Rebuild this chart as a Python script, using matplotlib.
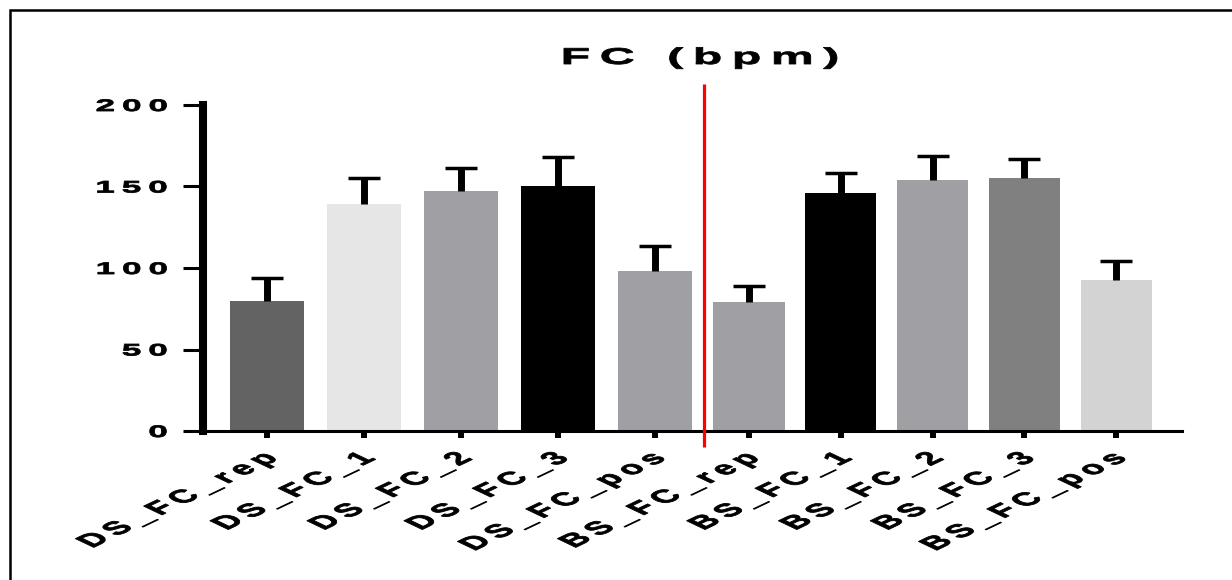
import numpy as np
import matplotlib
matplotlib.use('Agg')
import matplotlib.pyplot as plt
from matplotlib.patheffects import AbstractPathEffect
from matplotlib.transforms import Affine2D, ScaledTranslation
from matplotlib.patches import Rectangle

# --- Dados ---
rotulos_ds = ['DS_FC_rep', 'DS_FC_1', 'DS_FC_2', 'DS_FC_3', 'DS_FC_pos']
rotulos_bs = ['BS_FC_rep', 'BS_FC_1', 'BS_FC_2', 'BS_FC_3', 'BS_FC_pos']
media_ds = [80, 139, 147, 150, 98]
dp_ds = [14, 16, 14.5, 18, 15.5]
media_bs = [79, 146, 154, 155, 92.5]
dp_bs = [10, 12, 15, 12, 11.5]
cores_ds = ['#636363', '#e6e6e6', '#a09fa4', '#000000', '#a09fa4']
cores_bs = ['#a09fa4', '#000000', '#a09fa4', '#808080', '#d3d3d3']
ticks_y = [0, 50, 100, 150, 200]
titulo = 'FC (bpm)'

plt.rcParams['font.family'] = ['Liberation Sans', 'DejaVu Sans']
plt.rcParams['font.weight'] = 'bold'

ESTICA = 2.1  # a figura original foi esticada na horizontal


class Estica(AbstractPathEffect):
    # estica o texto na horizontal em volta do ponto de ancoragem e engrossa o traço
    def __init__(self, texto, sx, borda=0.6):
        super().__init__()
        self.texto = texto
        self.sx = sx
        self.borda = borda

    def draw_path(self, renderer, gc, tpath, affine, rgbFace=None):
        x0, _ = self.texto.get_transform().transform(self.texto.get_position())
        t = Affine2D(affine.get_matrix()).translate(-x0, 0).scale(self.sx, 1).translate(x0, 0)
        gc0 = renderer.new_gc()
        gc0.copy_properties(gc)
        gc0.set_linewidth(self.borda)
        gc0.set_foreground(rgbFace)
        gc0.set_joinstyle('round')
        renderer.draw_path(gc0, tpath, t, rgbFace)
        gc0.restore()


def espaca(s):
    # espaçamento entre letras com espaço fino
    return '\u2009'.join(s)


W, H = 1232, 580
fig = plt.figure(figsize=(W / 100, H / 100), dpi=100)
ax = fig.add_axes([202.5 / W, 1 - 431 / H, (1182 - 202.5) / W, (431 - 105) / H])

# posições das barras (o segundo grupo é um pouco mais apertado)
x_ds = np.arange(len(media_ds))
x_bs = 4 + 0.969 + 0.946 * np.arange(len(media_bs))

ax.bar(x_ds, media_ds, width=0.773, color=cores_ds, zorder=2)
ax.bar(x_bs, media_bs, width=0.732, color=cores_bs, zorder=2)

# barras de erro só para cima
for x, m, d in [(x_ds, media_ds, dp_ds), (x_bs, media_bs, dp_bs)]:
    m = np.array(m)
    d = np.array(d)
    ax.vlines(x, m, m + d, color='k', lw=5, zorder=3)
    ax.plot(x, m + d, ls='none', marker='_', ms=23, mew=2.5, color='k', zorder=3)

# linha vermelha separando os grupos
ax.vlines(4.505, -10, 213, color='#ff0000', lw=2.3, clip_on=False, zorder=4)

ax.set_xlim(-0.665, -0.665 + 979.5 / 97)
ax.set_ylim(0, 200)
for lado in ['top', 'right']:
    ax.spines[lado].set_visible(False)
ax.spines['left'].set_linewidth(5.8)
ax.spines['bottom'].set_linewidth(2.2)

ax.set_yticks(ticks_y)
ax.set_yticklabels([espaca(str(v)) for v in ticks_y])
ax.set_xticks(np.concatenate([x_ds, x_bs]))
ax.set_xticklabels([espaca(r) for r in rotulos_ds + rotulos_bs],
                   rotation=45, ha='right', va='top', rotation_mode='anchor')
ax.tick_params(axis='y', length=14.4, width=2.2, pad=10.8, labelsize=12)
ax.tick_params(axis='x', length=5, width=4.3, pad=8.6, labelsize=13)

desloca = ScaledTranslation(-0.07, 0, fig.dpi_scale_trans)
for t in ax.get_xticklabels():
    t.set_transform(t.get_transform() + desloca)
for t in ax.get_xticklabels() + ax.get_yticklabels():
    t.set_path_effects([Estica(t, ESTICA)])

tt = fig.text(700 / W, 1 - 64 / H, espaca(titulo), ha='center', va='baseline',
              fontsize=16.5, fontweight='bold')
tt.set_path_effects([Estica(tt, ESTICA)])

# moldura da página
fig.add_artist(Rectangle((9.5 / W, -0.1), 1.2, 1.1 - 10.5 / H, fill=False,
                         lw=1.8, ec='k', transform=fig.transFigure, clip_on=False))

fig.savefig('out.png', dpi=100)
